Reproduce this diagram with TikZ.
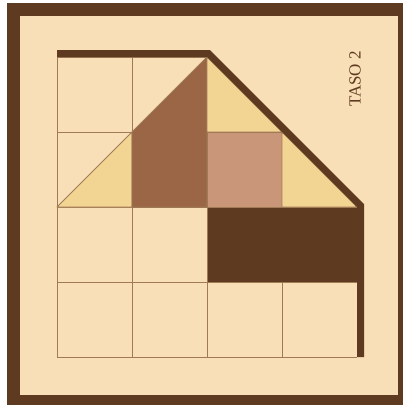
\documentclass[tikz,border=0pt]{standalone}
\usepackage{fontspec}
\setmainfont{Liberation Serif}
\usetikzlibrary{positioning}
\definecolor{FrameBrown}{HTML}{5E3B20}
\definecolor{Paper}{HTML}{F8DFB8}
\definecolor{GridLine}{HTML}{A07A55}
\definecolor{PieceYellow}{HTML}{F2D593}
\definecolor{PieceBrown}{HTML}{9A6645}
\definecolor{PieceTan}{HTML}{C9967A}

\begin{document}
\begin{tikzpicture}[x=1pt, y=-1pt,
  cell/.style={draw=GridLine, line width=0.9pt},
  piece/.style={draw=GridLine, line width=0.9pt, line join=round},
  rim/.style={draw=FrameBrown, line width=7pt, line join=miter},
  lbl/.style={font=\fontsize{17}{20}\selectfont, text=FrameBrown, inner sep=0pt}
]
\useasboundingbox (0,0) rectangle (403,405);

% ---- Frame ----
\fill[white] (0,0) rectangle (403,405);
\fill[FrameBrown] (7,3) rectangle (403,405);
\fill[Paper] (20,16) rectangle (398,395);

% ---- Grid (inside the house only) ----
\begin{scope}
  \clip (56,56) -- (207,56) -- (358,207) -- (358,358) -- (56,358) -- cycle;
  \foreach \i in {0,...,4} {
    \draw[cell] (57+75*\i,57) -- (57+75*\i,357);
    \draw[cell] (57,57+75*\i) -- (357,57+75*\i);
  }
\end{scope}

% ---- Pieces ----
\filldraw[piece, fill=PieceYellow] (57,207) -- (132,132) -- (132,207) -- cycle;
\filldraw[piece, fill=PieceBrown]  (132,132) -- (207,57) -- (207,207) -- (132,207) -- cycle;
\filldraw[piece, fill=PieceYellow] (207,57) -- (282,132) -- (207,132) -- cycle;
\filldraw[piece, fill=PieceTan]    (207,132) rectangle (282,207);
\filldraw[piece, fill=PieceYellow] (282,132) -- (357,207) -- (282,207) -- cycle;
\filldraw[piece, fill=FrameBrown]  (207,207) rectangle (357,282);

% ---- Outline ----
\draw[rim] (57,53.5) -- (208.5,53.5) -- (360.5,205.5) -- (360.5,357);

\node[lbl, rotate=90] (step2) at (355,79) {TASO 2};

\end{tikzpicture}
\end{document}
